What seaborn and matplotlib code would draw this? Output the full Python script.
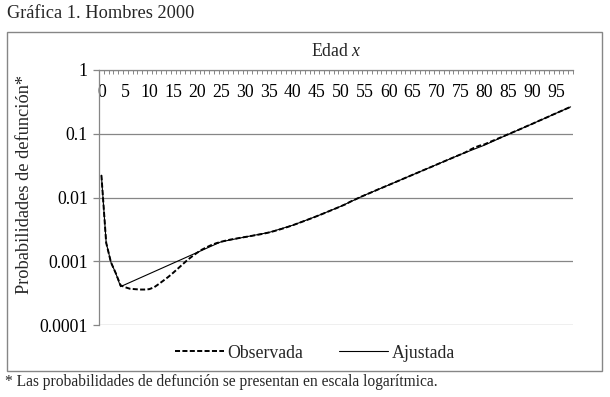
import numpy as np
import pandas as pd
import matplotlib
matplotlib.use("Agg")
import matplotlib.pyplot as plt
from matplotlib.patches import Rectangle
from matplotlib.ticker import FixedLocator, NullFormatter
import seaborn as sns

# ---------------- data ----------------
edades = list(range(0, 99))
observada = [
    0.0224, 0.00195, 0.00096, 0.00065, 0.00042, 0.00039, 0.00037, 0.000365, 0.00036, 0.00036,
    0.000365, 0.00039, 0.00044, 0.00050, 0.00057, 0.00066, 0.00077, 0.00090, 0.00105, 0.00120,
    0.00136, 0.00152, 0.00166, 0.00180, 0.00192, 0.00202, 0.00211, 0.00219, 0.00226, 0.00233,
    0.00240, 0.00247, 0.00255, 0.00263, 0.00272, 0.00283, 0.00296, 0.00311, 0.00328, 0.00347,
    0.00368, 0.00392, 0.00418, 0.00446, 0.00476, 0.00510, 0.00546, 0.00586, 0.00630, 0.00676,
    0.00728, 0.00784, 0.00860, 0.00930, 0.01010, 0.01087, 0.0117, 0.0126, 0.0136, 0.0146,
    0.0157, 0.0169, 0.0182, 0.0196, 0.0211, 0.0227, 0.0244, 0.0263, 0.0283, 0.0304,
    0.0328, 0.0353, 0.0380, 0.0409, 0.0440, 0.0473, 0.0509, 0.0560, 0.0610, 0.0650,
    0.0680, 0.0735, 0.0790, 0.0850, 0.0915, 0.0985, 0.106, 0.114, 0.123, 0.133,
    0.143, 0.155, 0.167, 0.180, 0.195, 0.210, 0.227, 0.245, 0.264,
]
edades_ajustada = [0, 1, 2, 3, 4, 25, 30, 35, 40, 45, 50, 55, 60, 65, 70, 75, 80, 85, 90, 95, 98]
ajustada = [0.0224, 0.00195, 0.00096, 0.00065, 0.00040, 0.00202, 0.00240, 0.00283, 0.00368,
            0.00510, 0.00728, 0.0109, 0.0157, 0.0227, 0.0328, 0.0473, 0.0662, 0.0980,
            0.143, 0.210, 0.264]
etiquetas_x = list(range(0, 100, 5))
ticks_y = [0.0001, 0.001, 0.01, 0.1, 1]
etiquetas_y = ["0.0001", "0.001", "0.01", "0.1", "1"]

df_obs = pd.DataFrame({"edad": edades, "q": observada})
df_aj = pd.DataFrame({"edad": edades_ajustada, "q": ajustada})

# ---------------- style ----------------
sns.set_theme(style="white")
plt.rcParams["font.family"] = ["Liberation Serif", "DejaVu Serif"]
plt.rcParams["mathtext.fontset"] = "custom"
plt.rcParams["mathtext.rm"] = "Liberation Serif"
plt.rcParams["mathtext.it"] = "Liberation Serif:italic"

GRAY = "#868686"
FS = 12.8

W, H = 610, 397
fig = plt.figure(figsize=(W / 100, H / 100), dpi=100)
fig.patch.set_facecolor("white")

L, R, T, B = 99, 573, 70, 325
ax = fig.add_axes([L / W, 1 - B / H, (R - L) / W, (B - T) / H])

sns.lineplot(data=df_obs, x="edad", y="q", ax=ax, color="black", lw=1.4,
             linestyle=(0, (2.6, 1.2)), label="Observada", legend=False)
sns.lineplot(data=df_aj, x="edad", y="q", ax=ax, color="black", lw=0.8,
             label="Ajustada", legend=False)

ax.set_yscale("log")
ax.set_ylim(0.0001, 1)
ax.set_xlim(-0.5, 98.5)
ax.set_xlabel("")
ax.set_ylabel("")

# y axis
ax.yaxis.set_major_locator(FixedLocator(ticks_y))
ax.set_yticklabels(etiquetas_y)
ax.yaxis.set_minor_locator(FixedLocator([]))
ax.tick_params(axis="y", which="major", left=True, direction="out", length=4,
               width=0.9, color=GRAY, labelsize=FS, pad=4, labelcolor="black")
ax.grid(True, axis="y", which="major", color=GRAY, lw=0.9)
ax.grid(False, axis="x")

# x axis on top, labels inside
ax.xaxis.tick_top()
ax.xaxis.set_major_locator(FixedLocator(etiquetas_x))
ax.set_xticklabels([str(v) for v in etiquetas_x])
ax.xaxis.set_minor_locator(FixedLocator([i + 0.5 for i in range(-1, 99)]))
ax.xaxis.set_minor_formatter(NullFormatter())
ax.tick_params(axis="x", which="major", top=True, bottom=False, length=0,
               labelsize=FS, pad=-22.5, labelcolor="black")
ax.tick_params(axis="x", which="minor", top=True, bottom=False, direction="in",
               length=3, width=0.7, color=GRAY)

for s in ["right", "bottom"]:
    ax.spines[s].set_visible(False)
for s in ["left", "top"]:
    ax.spines[s].set_color(GRAY)
    ax.spines[s].set_linewidth(0.9)

ax.text(0.5, 1 + 18 / (B - T), r"Edad $x$", transform=ax.transAxes,
        ha="center", va="center", fontsize=FS)

fig.text(25 / W, 1 - 184 / H, "Probabilidades de defunción*", rotation=90,
         ha="center", va="center", fontsize=13.2)

# outer frame
fig.add_artist(Rectangle((7 / W, 1 - 371 / H), 595 / W, 339 / H,
                         transform=fig.transFigure, fill=False,
                         edgecolor=GRAY, lw=1.0))

fig.text(7 / W, 1 - 14 / H, "Gráfica 1. Hombres 2000", ha="left", va="center",
         fontsize=13.2)
fig.text(5 / W, 1 - 382 / H,
         "* Las probabilidades de defunción se presentan en escala logarítmica.",
         ha="left", va="center", fontsize=11.2)

handles, labels = ax.get_legend_handles_labels()
fig.legend(handles, labels, loc="center", bbox_to_anchor=(315 / W, 1 - 353 / H),
           ncol=2, frameon=False, fontsize=FS, handlelength=2.75,
           handletextpad=0.2, columnspacing=2.0)

fig.savefig("out.png", dpi=100, facecolor="white")
